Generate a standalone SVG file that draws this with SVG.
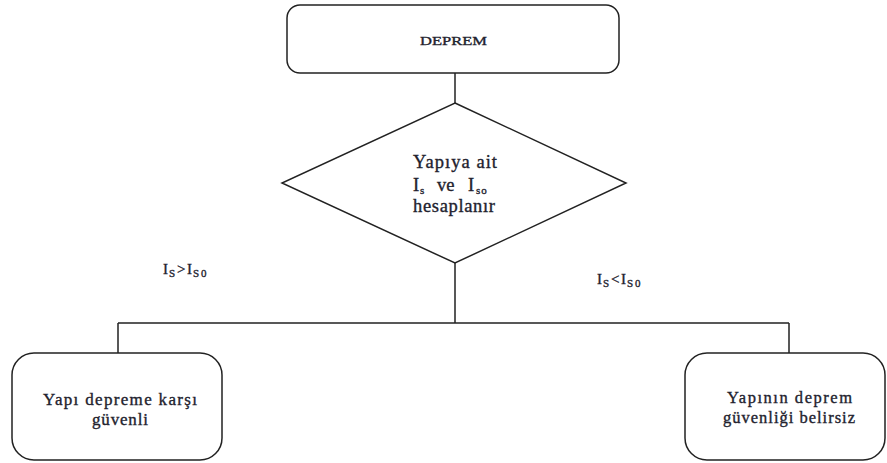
<svg xmlns="http://www.w3.org/2000/svg" width="887" height="463" viewBox="0 0 887 463">
<style>
.box{fill:#fff;stroke:#222;stroke-width:1.5}
.ln{fill:none;stroke:#222;stroke-width:1.5}
text{font-family:'Liberation Serif','Times New Roman',serif;fill:#22222e;stroke:#22222e;stroke-width:0.35}
.sub{font-size:11px}
</style>
<rect width="887" height="463" fill="#fff"/>
<g id="connectors">
<path class="ln" d="M455,73 V103"/>
<path class="ln" d="M455,263 V323 M118,323 H789 M118,323 V353 M789,323 V353"/>
</g>
<g id="deprem">
<rect class="box" x="287" y="5" width="332" height="68" rx="13"/>
<text x="420" y="45" font-size="13.5" textLength="67" lengthAdjust="spacingAndGlyphs">DEPREM</text>
</g>
<g id="hesap">
<polygon class="box" points="455,103 626,183 455,263 282,183"/>
<text x="413" y="168" font-size="18.5" textLength="84" lengthAdjust="spacing">Yapıya ait</text>
<text y="191" font-size="18.5"><tspan x="413">I</tspan><tspan class="sub" x="420" y="194">s</tspan><tspan x="437" y="191">ve</tspan><tspan x="468">I</tspan><tspan class="sub" x="476" y="194" letter-spacing="1">so</tspan></text>
<text x="413" y="212" font-size="18.5" textLength="82" lengthAdjust="spacing">hesaplanır</text>
</g>
<g id="label-left">
<text y="274" font-size="15"><tspan x="163">I</tspan><tspan class="sub" x="169" y="277" font-size="12">S</tspan><tspan x="177" y="274">&gt;</tspan><tspan x="187">I</tspan><tspan class="sub" x="193" y="277" font-size="12" letter-spacing="2">S0</tspan></text>
</g>
<g id="label-right">
<text y="284" font-size="15"><tspan x="597">I</tspan><tspan class="sub" x="603" y="287" font-size="12">S</tspan><tspan x="611" y="284">&lt;</tspan><tspan x="621">I</tspan><tspan class="sub" x="627" y="287" font-size="12" letter-spacing="2">S0</tspan></text>
</g>
<g id="guvenli">
<rect class="box" x="12" y="353" width="210" height="107" rx="22"/>
<text x="43" y="405" font-size="17" textLength="154" lengthAdjust="spacing">Yapı depreme karşı</text>
<text x="92" y="425" font-size="17" textLength="56" lengthAdjust="spacing">güvenli</text>
</g>
<g id="belirsiz">
<rect class="box" x="685" y="353" width="200" height="107" rx="22"/>
<text x="727" y="403" font-size="16.5" textLength="125" lengthAdjust="spacing">Yapının deprem</text>
<text x="723" y="423" font-size="16.5" textLength="132" lengthAdjust="spacing">güvenliği belirsiz</text>
</g>
</svg>
